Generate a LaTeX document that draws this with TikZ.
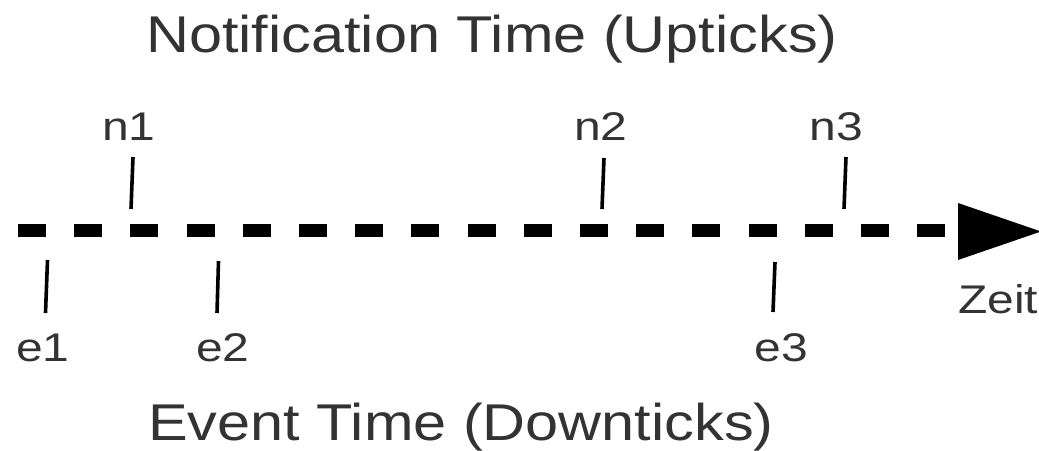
\documentclass[tikz,border=0pt]{standalone}
\usepackage{fontspec}
\newfontfamily\titlefont[FakeStretch=1.15]{Liberation Sans}
\newfontfamily\labelfont[FakeStretch=1.2]{Liberation Sans}
\definecolor{txt}{HTML}{333333}
\begin{document}
\begin{tikzpicture}[x=1pt,y=-1pt,
  heading/.style={inner sep=0pt,anchor=base,text=txt,font=\titlefont\fontsize{51.7}{60}\selectfont},
  ticklabel/.style={inner sep=0pt,anchor=base,text=txt,font=\labelfont\fontsize{40}{48}\selectfont},
  timeline/.style={line width=13pt,line cap=butt,dash pattern=on 28pt off 28.2pt},
  tickmark/.style={line width=3.6pt,line cap=butt}]
\useasboundingbox (0,0) rectangle (1039,450);

% headings
\node[heading] (top) at (492,52) {Notification Time (Upticks)};
\node[heading] (bottom) at (461,440) {Event Time (Downticks)};

% time axis with arrow head
\coordinate (axisstart) at (18,230.5);
\coordinate (axisend) at (946,230.5);
\coordinate (tipbase1) at (958,203);
\coordinate (tipbase2) at (958,260);
\coordinate (tip) at (1041,231.5);
\draw[timeline] (axisstart) -- (axisend);
\fill (tipbase1) -- (tip) -- (tipbase2) -- cycle;
\node[ticklabel] (zeit) at (998,313) {Zeit};

% notification ticks above the axis
\coordinate (n1a) at (133,157); \coordinate (n1b) at (131,209);
\coordinate (n2a) at (604,158); \coordinate (n2b) at (602,209);
\coordinate (n3a) at (846,157); \coordinate (n3b) at (844,209);
\draw[tickmark] (n1a) -- (n1b);
\draw[tickmark] (n2a) -- (n2b);
\draw[tickmark] (n3a) -- (n3b);
\node[ticklabel] (n1) at (129,140) {n1};
\node[ticklabel] (n2) at (601,140) {n2};
\node[ticklabel] (n3) at (836,140) {n3};

% event ticks below the axis
\coordinate (e1a) at (47.5,260); \coordinate (e1b) at (45.5,313);
\coordinate (e2a) at (218.5,261); \coordinate (e2b) at (217,313);
\coordinate (e3a) at (775,262); \coordinate (e3b) at (773,312);
\draw[tickmark] (e1a) -- (e1b);
\draw[tickmark] (e2a) -- (e2b);
\draw[tickmark] (e3a) -- (e3b);
\node[ticklabel] (e1) at (43,361) {e1};
\node[ticklabel] (e2) at (223,361) {e2};
\node[ticklabel] (e3) at (781,361) {e3};
\end{tikzpicture}
\end{document}
